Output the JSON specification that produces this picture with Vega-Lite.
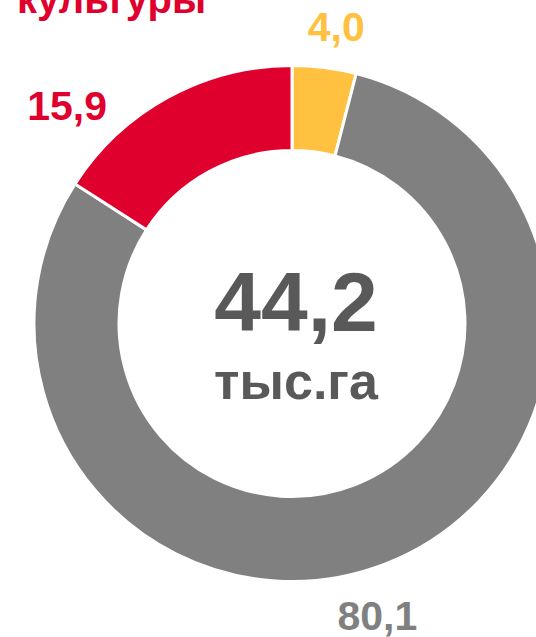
{
  "$schema": "https://vega.github.io/schema/vega-lite/v6.json",
  "autosize": "none",
  "width": 488,
  "height": 627,
  "padding": {"left": 48, "top": 10, "right": 0, "bottom": 0},
  "background": "white",
  "datasets": {
    "parts": [
      {"idx": 1, "name": "yellow", "value": 4.0, "label": "4,0"},
      {"idx": 2, "name": "gray", "value": 80.1, "label": "80,1"},
      {"idx": 3, "name": "red", "value": 15.9, "label": "15,9"}
    ],
    "center": [
      {"big": "44,2", "unit": "тыс.га", "heading": "культуры"}
    ]
  },
  "data": {"name": "parts"},
  "encoding": {
    "theta": {"field": "value", "type": "quantitative", "stack": true},
    "order": {"field": "idx", "type": "quantitative"},
    "color": {
      "field": "name",
      "type": "nominal",
      "scale": {"domain": ["yellow", "gray", "red"], "range": ["#FFC13F", "#808080", "#E0002D"]},
      "legend": null
    }
  },
  "layer": [
    {
      "mark": {"type": "arc", "outerRadius": 258, "innerRadius": 173, "stroke": "white", "strokeWidth": 3}
    },
    {
      "mark": {"type": "text", "radius": 297, "dx": 7, "font": "Liberation Sans", "fontWeight": "bold", "fontSize": 41, "align": "center", "baseline": "middle"},
      "encoding": {"text": {"condition": {"test": "datum.name === 'yellow'", "field": "label"}, "value": ""}}
    },
    {
      "mark": {"type": "text", "radius": 246, "dx": -107, "font": "Liberation Sans", "fontWeight": "bold", "fontSize": 41, "align": "center", "baseline": "middle"},
      "encoding": {"text": {"condition": {"test": "datum.name === 'red'", "field": "label"}, "value": ""}}
    },
    {
      "mark": {"type": "text", "radius": 316, "dx": -30, "font": "Liberation Sans", "fontWeight": "bold", "fontSize": 41, "align": "center", "baseline": "middle"},
      "encoding": {"text": {"condition": {"test": "datum.name === 'gray'", "field": "label"}, "value": ""}}
    },
    {
      "data": {"name": "center"},
      "mark": {"type": "text", "dx": 4, "dy": 7.5, "font": "Liberation Sans", "fontWeight": "bold", "fontSize": 84, "align": "center", "baseline": "alphabetic", "color": "#595959"},
      "encoding": {"text": {"field": "big"}, "theta": null, "order": null, "color": null}
    },
    {
      "data": {"name": "center"},
      "mark": {"type": "text", "dx": 4, "dy": 75.5, "font": "Liberation Sans", "fontWeight": "bold", "fontSize": 52, "align": "center", "baseline": "alphabetic", "color": "#595959"},
      "encoding": {"text": {"field": "unit"}, "theta": null, "order": null, "color": null}
    },
    {
      "data": {"name": "center"},
      "mark": {"type": "text", "dx": -275, "dy": -310.5, "font": "Liberation Sans", "fontWeight": "bold", "fontSize": 40, "align": "left", "baseline": "alphabetic", "color": "#E0002D"},
      "encoding": {"text": {"field": "heading"}, "theta": null, "order": null, "color": null}
    }
  ]
}
